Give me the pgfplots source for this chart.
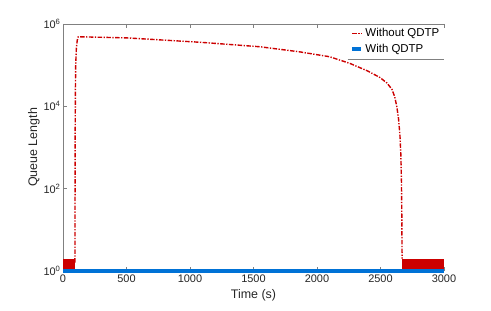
\documentclass[border=0pt]{standalone}
\usepackage{fontspec}
\setmainfont{Liberation Sans}
\usepackage{pgfplots}
\pgfplotsset{compat=1.18}
\definecolor{qred}{RGB}{204,0,0}
\definecolor{qblue}{RGB}{0,114,214}
\begin{document}
\begin{tikzpicture}
\begin{axis}[
  name=ax,
  scale only axis,
  width=381bp, height=247bp,
  xmin=0, xmax=3000,
  ymin=1, ymax=1e6,
  ymode=log,
  axis x line*=box,
  axis y line*=left,
  axis line style={gray},
  every tick/.style={gray},
  xtick={0,500,...,3000},
  ytick={1,100,10000,1000000},
  yticklabels={10\textsuperscript{0},10\textsuperscript{2},10\textsuperscript{4},10\textsuperscript{6}},
  tick label style={font=\fontsize{11}{13}\selectfont, text=black!85},
  yticklabel style={xshift=1pt},
  xticklabel style={/pgf/number format/assume math mode=true, /pgf/number format/1000 sep={}},
  xlabel={Time (s)},
  ylabel={Queue Length},
  ylabel style={yshift=-3pt},
  label style={font=\fontsize{12.5}{14}\selectfont, text=black!85},
  clip=false,
  legend cell align=left,
  legend style={at={(rel axis cs:1,1)}, anchor=north east, draw=none, fill=white,
    font=\fontsize{11.5}{13}\selectfont, inner sep=2.5pt, row sep=2pt,
    append after command={(\tikzlastnode.south west) edge[draw=gray, line width=0.8pt] (\tikzlastnode.south east)
      (\tikzlastnode.north west) edge[draw=gray, line width=0.8pt] (\tikzlastnode.north east)}},
  legend image code/.code={\draw[#1] (0cm,0cm) -- (0.32cm,0cm);},
]
\addplot[qred, line width=1.4pt, dash pattern=on 4.5pt off 1.5pt on 1.3pt off 1.5pt] coordinates {
(94,1.6)(95,100)(96,3000)(98,30000)(100,100000)(105,250000)(112,400000)(120,490000)
(500,460000)(1079,360000)(1551,280000)(1866,210000)(2100,160000)(2260,110000)
(2400,72000)(2496,50000)(2550,37000)(2590,26000)(2612,17000)(2628,10000)(2642,5000)(2653,2000)(2660,700)(2665,150)(2668,20)(2670,2)
};
\addlegendentry{Without QDTP}
\addplot[qblue, line width=4pt] coordinates {(0,1)(3000,1)};
\addlegendentry{With QDTP}
\addplot[qred, fill=qred, draw=none, forget plot] coordinates {(0,1)(0,2)(94,2)(94,1)} -- cycle;
\addplot[qred, fill=qred, draw=none, forget plot] coordinates {(2668,1)(2668,2)(3000,2)(3000,1)} -- cycle;
\addplot[qblue, line width=4pt, forget plot] coordinates {(0,1)(3000,1)};
\end{axis}
\pgfresetboundingbox
\path[use as bounding box] ([shift={(-63bp,-40bp)}]ax.south west) rectangle ([shift={(47bp,24bp)}]ax.north east);
\end{tikzpicture}
\end{document}
